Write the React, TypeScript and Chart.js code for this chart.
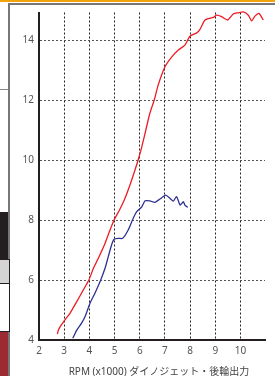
import React, { useEffect, useRef } from "react";
import { Chart, registerables } from "chart.js";

Chart.register(...registerables);

// Rear-wheel output, red curve
const redRpm = [2.73, 2.77, 2.86, 3.03, 3.23, 3.5, 3.76, 3.98, 4.16, 4.35, 4.62, 4.82, 4.98, 5.21, 5.41, 5.61, 5.81, 5.94, 6.08, 6.27, 6.4, 6.58, 6.73, 7.0, 7.27, 7.53, 7.79, 7.99, 8.26, 8.39, 8.59, 8.92, 9.05, 9.25, 9.49, 9.71, 9.91, 10.11, 10.31, 10.44, 10.57, 10.73, 10.9];
const redPower = [4.2, 4.33, 4.47, 4.67, 4.89, 5.28, 5.67, 6.0, 6.39, 6.72, 7.22, 7.67, 8.0, 8.36, 8.72, 9.17, 9.67, 10.02, 10.44, 11.11, 11.56, 12.02, 12.5, 13.11, 13.44, 13.67, 13.83, 14.13, 14.24, 14.36, 14.67, 14.76, 14.83, 14.78, 14.67, 14.87, 14.91, 14.94, 14.83, 14.64, 14.8, 14.89, 14.67];

// Rear-wheel output, blue curve
const blueRpm = [3.34, 3.5, 3.69, 3.83, 4.02, 4.22, 4.45, 4.62, 4.75, 4.88, 4.98, 5.15, 5.32, 5.54, 5.74, 5.88, 6.08, 6.21, 6.4, 6.6, 6.8, 7.03, 7.2, 7.33, 7.46, 7.6, 7.73, 7.79, 7.9];
const bluePower = [4.06, 4.33, 4.56, 4.78, 5.22, 5.56, 6.0, 6.39, 6.78, 7.17, 7.36, 7.39, 7.39, 7.67, 8.06, 8.28, 8.44, 8.64, 8.64, 8.59, 8.7, 8.83, 8.72, 8.63, 8.78, 8.5, 8.61, 8.5, 8.42];

const xTickValues = [2, 3, 4, 5, 6, 7, 8, 9, 10];
const yTickValues = [4, 6, 8, 10, 12, 14];
const xTitle = "RPM (x1000) ダイノジェット・後輪出力";

const FONT = "'Noto Sans', 'Noto Sans CJK JP', sans-serif";

export default function App() {
  const ref = useRef<HTMLCanvasElement | null>(null);

  useEffect(() => {
    if (!ref.current) return;
    const chart = new Chart(ref.current, {
      type: "line",
      data: {
        datasets: [
          {
            data: redRpm.map((x, i) => ({ x, y: redPower[i] })),
            borderColor: "#ed1c24",
            borderWidth: 1.3,
            pointRadius: 0,
            tension: 0.2,
            clip: false,
          },
          {
            data: blueRpm.map((x, i) => ({ x, y: bluePower[i] })),
            borderColor: "#2e3192",
            borderWidth: 1.3,
            pointRadius: 0,
            tension: 0.2,
            clip: false,
          },
        ],
      },
      options: {
        responsive: false,
        animation: false,
        layout: { padding: { left: 0, right: 10, top: 12.5, bottom: 0 } },
        plugins: { legend: { display: false }, tooltip: { enabled: false } },
        scales: {
          x: {
            type: "linear",
            min: 2,
            max: 10.97,
            afterBuildTicks: (s: any) => {
              s.ticks = xTickValues.map((v) => ({ value: v }));
            },
            afterFit: (s: any) => {
              s.height = 36;
            },
            grid: { color: "#222", lineWidth: 1, drawTicks: false },
            border: { color: "#231f20", width: 2, dash: [2, 2] },
            ticks: {
              padding: 5,
              color: "#555",
              font: { family: FONT, size: 10 },
              maxRotation: 0,
            },
          },
          y: {
            type: "linear",
            min: 4,
            max: 14.92,
            afterBuildTicks: (s: any) => {
              s.ticks = yTickValues.map((v) => ({ value: v }));
            },
            afterFit: (s: any) => {
              s.width = 39;
            },
            grid: { color: "#555", lineWidth: 1, drawTicks: false },
            border: { color: "#231f20", width: 2, dash: [2, 2] },
            ticks: {
              padding: 5,
              color: "#555",
              font: { family: FONT, size: 10 },
            },
          },
        },
      },
    });
    return () => chart.destroy();
  }, []);

  const box = (style: React.CSSProperties) => (
    <div style={{ position: "absolute", boxSizing: "border-box", ...style }} />
  );

  return (
    <div
      style={{
        position: "fixed",
        left: 0,
        top: 0,
        width: 275,
        height: 376,
        background: "#fff",
        overflow: "hidden",
      }}
    >
      {box({ left: 0, top: 0, width: 275, height: 2, background: "#f2a40c" })}
      {box({ left: 8, top: 3, width: 267, height: 1.5, background: "#777" })}
      {box({ left: 8, top: 3, width: 1.5, height: 373, background: "#777" })}
      {box({ left: 0, top: 89, width: 8, height: 1, background: "#888" })}
      {box({ left: 0, top: 212, width: 8, height: 47, background: "#231f20" })}
      {box({ left: 0, top: 259, width: 10, height: 25, background: "#d4d4d4", border: "1.5px solid #231f20", borderLeft: "none" })}
      {box({ left: 0, top: 283, width: 10, height: 49, background: "#fff", border: "1.5px solid #231f20", borderLeft: "none" })}
      {box({ left: 0, top: 332, width: 8, height: 44, background: "#9b2a32" })}
      <canvas
        ref={ref}
        width={275}
        height={376}
        style={{ position: "absolute", left: 0, top: 0, width: 275, height: 376 }}
      />
      <div
        style={{
          position: "absolute",
          left: 0,
          top: 365,
          width: 318,
          textAlign: "center",
          fontFamily: FONT,
          fontSize: 10,
          lineHeight: "12px",
          color: "#444",
          whiteSpace: "nowrap",
        }}
      >
        {xTitle}
      </div>
    </div>
  );
}
